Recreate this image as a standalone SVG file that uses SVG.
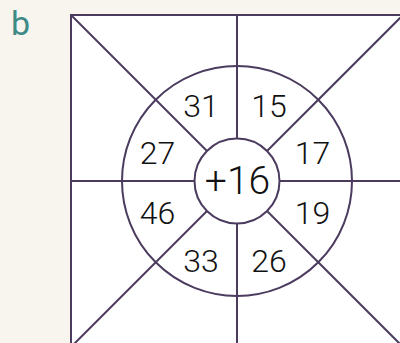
<svg xmlns="http://www.w3.org/2000/svg" width="400" height="343" viewBox="0 0 400 343">
  <style>
    .ln { stroke: #4b3b5e; stroke-width: 2; fill: none; }
    .fillw { fill: #ffffff; }
    .num { font-family: Roboto, "Liberation Sans", sans-serif; font-weight: 300; font-size: 32px; fill: #111; text-anchor: middle; }
    .big { font-size: 39px; }
    .lbl { font-family: Roboto, "Liberation Sans", sans-serif; font-size: 34px; fill: #3f8a87; }
  </style>
  <rect width="400" height="343" fill="#f8f5ef"/>
  <text class="lbl" x="11" y="35">b</text>
  <g id="square">
    <rect class="ln fillw" x="71" y="15" width="332" height="332"/>
  </g>
  <g id="connectors">
    <line class="ln" x1="71" y1="15" x2="207" y2="151"/>
    <line class="ln" x1="403" y1="15" x2="267" y2="151"/>
    <line class="ln" x1="71" y1="347" x2="207" y2="211"/>
    <line class="ln" x1="403" y1="347" x2="267" y2="211"/>
    <line class="ln" x1="237" y1="15" x2="237" y2="138.5"/>
    <line class="ln" x1="237" y1="223.5" x2="237" y2="347"/>
    <line class="ln" x1="71" y1="181" x2="194.5" y2="181"/>
    <line class="ln" x1="279.5" y1="181" x2="403" y2="181"/>
  </g>
  <g id="outer-circle">
    <circle class="ln" cx="237" cy="181" r="115"/>
  </g>
  <g id="inner-circle">
    <circle class="ln" cx="237" cy="181" r="42.5"/>
    <text class="num big" x="237.5" y="193.5">+16</text>
  </g>
  <g id="n31"><text class="num" x="201" y="116.5">31</text></g>
  <g id="n15"><text class="num" x="269" y="116.5">15</text></g>
  <g id="n27"><text class="num" x="157.5" y="163.5">27</text></g>
  <g id="n17"><text class="num" x="312.5" y="163.5">17</text></g>
  <g id="n46"><text class="num" x="157.5" y="223.5">46</text></g>
  <g id="n19"><text class="num" x="312.5" y="223.5">19</text></g>
  <g id="n33"><text class="num" x="201" y="271.5">33</text></g>
  <g id="n26"><text class="num" x="269" y="271.5">26</text></g>
</svg>
